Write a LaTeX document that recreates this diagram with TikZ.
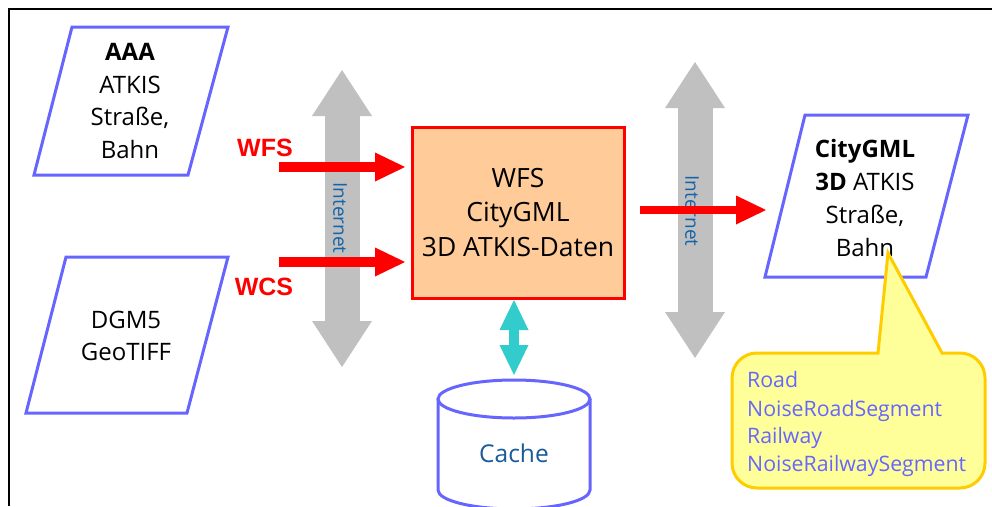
\documentclass[tikz,border=0pt]{standalone}
\usepackage{fontspec}
\setmainfont{Open Sans}
\newfontfamily\labelfont{Liberation Sans}
\usetikzlibrary{arrows.meta}

\definecolor{paraBlue}{RGB}{102,102,255}
\definecolor{boxFill}{RGB}{255,204,153}
\definecolor{netGray}{RGB}{192,192,192}
\definecolor{netBlue}{RGB}{20,100,170}
\definecolor{cacheBlue}{RGB}{25,90,155}
\definecolor{cacheArrow}{RGB}{51,204,204}
\definecolor{noteFill}{RGB}{255,255,153}
\definecolor{noteEdge}{RGB}{255,204,0}

\begin{document}
\begin{tikzpicture}[x=1pt,y=-1pt,
  datashape/.style={draw=paraBlue, line width=3pt, fill=white, line join=miter},
  bodytext/.style={font=\fontsize{24}{32.7}\selectfont, align=center, inner sep=0pt},
  servicelabel/.style={text=red, font=\labelfont\bfseries\fontsize{25}{25}\selectfont, inner sep=0pt},
  redarrow/.style={draw=red, line width=10pt, -{Triangle[width=29pt,length=30pt,line width=0pt]}},
  netarrow/.style={draw=netGray, line width=35pt,
    {Triangle[width=60pt,length=46pt,line width=0pt]}-{Triangle[width=60pt,length=46pt,line width=0pt]}},
  nettext/.style={text=netBlue, rotate=-90, font=\fontsize{19}{19}\selectfont, inner sep=0pt},
  notetext/.style={text=paraBlue, font=\fontsize{21.3}{21.3}\selectfont, inner sep=0pt, anchor=base west}]

\useasboundingbox (0,0) rectangle (992,506);

% outer frame (open towards the right and the bottom)
\draw[line width=2pt] (9,506) -- (9,9) -- (992,9);

% input data sets
\draw[datashape] (72,27) -- (228,27) -- (188,175) -- (34,175) -- cycle;
\node[bodytext] (aaa) at (130,101) {\textbf{AAA}\\ATKIS\\Straße,\\Bahn};

\draw[datashape] (66,257) -- (228,257) -- (187,413) -- (26,413) -- cycle;
\node[bodytext] (dgm) at (126,336) {DGM5\\GeoTIFF};

% output data set
\draw[datashape] (805,115) -- (968,115) -- (926,277) -- (765,277) -- cycle;
\node[bodytext] (city) at (865,198) {\textbf{CityGML}\\\textbf{3D} ATKIS\\Straße,\\Bahn};

% internet channels
\coordinate (netLtop) at (342,70);
\coordinate (netLbot) at (342,367);
\coordinate (netRtop) at (695,62);
\coordinate (netRbot) at (695,358);
\draw[netarrow] (netLtop) -- (netLbot);
\draw[netarrow] (netRtop) -- (netRbot);
\node[nettext] (netL) at (340,218) {Internet};
\node[nettext] (netR) at (692,211) {Internet};

% central service
\node[draw=red, line width=3pt, fill=boxFill, minimum width=212pt, minimum height=171pt,
      font=\fontsize{26.5}{34.5}\selectfont, align=center, inner sep=0pt] (box) at (518,212.5)
      {WFS\\CityGML\\3D ATKIS-Daten};

% service labels and requests
\node[servicelabel] (wfs) at (265,148) {WFS};
\node[servicelabel] (wcs) at (264,287) {WCS};
\coordinate (wfsStart) at (279,167);
\coordinate (wfsEnd) at (405,167);
\coordinate (wcsStart) at (279,262);
\coordinate (wcsEnd) at (405,262);
\coordinate (outStart) at (640,210);
\coordinate (outEnd) at (766,210);
\draw[redarrow] (wfsStart) -- (wfsEnd);
\draw[redarrow] (wcsStart) -- (wcsEnd);
\draw[redarrow, line width=8pt] (outStart) -- (outEnd);

% cache
\draw[paraBlue, line width=3pt, fill=white]
  (438,399) -- (438,490) .. controls (438,500.5) and (472,509) .. (514,509)
  .. controls (556,509) and (590,500.5) .. (590,490) -- (590,399);
\draw[paraBlue, line width=3pt, fill=white] (514,399) ellipse [x radius=76, y radius=19];
\node[text=cacheBlue, font=\fontsize{24.5}{24.5}\selectfont] (cache) at (514,453) {Cache};
\coordinate (cacheTop) at (514,375);
\coordinate (boxBottom) at (514,300);
\draw[draw=cacheArrow, line width=10pt,
  {Triangle[width=29pt,length=30pt,line width=0pt]}-{Triangle[width=29pt,length=30pt,line width=0pt]}]
  (boxBottom) -- (cacheTop);

% feature type note
\draw[draw=noteEdge, fill=noteFill, line width=3pt, line join=miter]
  (878,353) -- (888,253) -- (942,353) -- (960,353)
  .. controls (973.8,353) and (985,364.2) .. (985,378) -- (985,463)
  .. controls (985,476.8) and (973.8,488) .. (960,488) -- (757,488)
  .. controls (743.2,488) and (732,476.8) .. (732,463) -- (732,378)
  .. controls (732,364.2) and (743.2,353) .. (757,353) -- cycle;
\node[notetext] (road) at (747,387) {Road};
\node[notetext] (roadseg) at (747,416) {NoiseRoadSegment};
\node[notetext] (rail) at (747,443) {Railway};
\node[notetext] (railseg) at (747,471) {NoiseRailwaySegment};
\end{tikzpicture}
\end{document}
